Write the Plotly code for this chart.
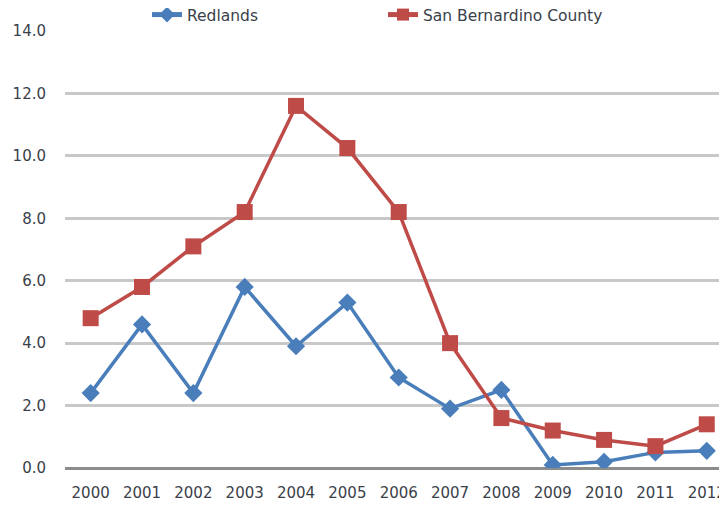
import plotly.graph_objects as go

years = ["2000", "2001", "2002", "2003", "2004", "2005", "2006",
         "2007", "2008", "2009", "2010", "2011", "2012"]
redlands = [2.4, 4.6, 2.4, 5.8, 3.9, 5.3, 2.9, 1.9, 2.5, 0.1, 0.2, 0.5, 0.55]
sb_county = [4.8, 5.8, 7.1, 8.2, 11.6, 10.25, 8.2, 4.0, 1.6, 1.2, 0.9, 0.7, 1.4]
y_ticks = [0, 2, 4, 6, 8, 10, 12, 14]
y_labels = ["0.0", "2.0", "4.0", "6.0", "8.0", "10.0", "12.0", "14.0"]
title_text = "2000 - 2012"

BLUE = "#4a7ebb"
RED = "#be4b48"
FONT = "DejaVu Sans, Liberation Sans, sans-serif"
TXT = "#3a3f4a"

fig = go.Figure()
fig.add_trace(go.Scatter(
    x=years, y=redlands, name="Redlands", mode="lines+markers",
    line=dict(color=BLUE, width=3.5),
    marker=dict(symbol="diamond", size=14, color=BLUE),
))
fig.add_trace(go.Scatter(
    x=years, y=sb_county, name="San Bernardino County", mode="lines+markers",
    line=dict(color=RED, width=3.5),
    marker=dict(symbol="square", size=16, color=RED),
))

fig.add_annotation(
    text="<b>" + title_text + "</b>", xref="paper", yref="paper",
    x=-0.085, y=1.0366, xanchor="left", yanchor="bottom", showarrow=False,
    font=dict(family=FONT, size=22, color=TXT),
)

fig.update_layout(
    width=727, height=506,
    margin=dict(l=57, r=0, t=23, b=46, autoexpand=False),
    paper_bgcolor="white", plot_bgcolor="white",
    font=dict(family=FONT, size=14, color=TXT),
    showlegend=True,
    legend=dict(orientation="h", x=0.1224, xanchor="left", y=1.0366, yanchor="middle",
                entrywidth=191, entrywidthmode="pixels",
                font=dict(family=FONT, size=15.5, color=TXT),
                bgcolor="rgba(0,0,0,0)", itemsizing="constant"),
    xaxis=dict(type="category", range=[-0.5, 12.55], showgrid=False,
               showline=False, ticks="", tickfont=dict(size=15),
               ticklabelstandoff=14),
    yaxis=dict(range=[0, 14], tickvals=y_ticks, ticktext=y_labels,
               showgrid=True, gridcolor="#c8c8c8", gridwidth=2.5,
               zeroline=True, zerolinecolor="#8c8c8c", zerolinewidth=2.5,
               showline=False, ticks="", tickfont=dict(size=15),
               ticklabelstandoff=18),
)

fig.write_html("out.html")
